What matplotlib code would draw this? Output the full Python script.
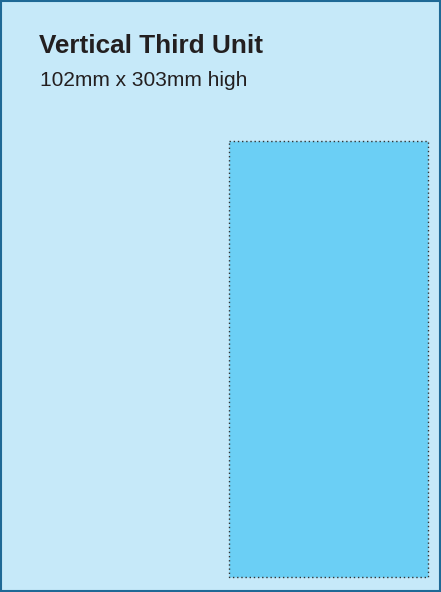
import matplotlib.pyplot as plt
from matplotlib.patches import Rectangle

# text shown on the diagram
title = "Vertical Third Unit"
subtitle = "102mm x 303mm high"

# page and unit boxes, in pixels of the 441x592 image
page = [0, 0, 441, 592]
unit = [228.5, 140.5, 199.5, 436.5]

fig = plt.figure(figsize=(4.41, 5.92), dpi=100)
ax = fig.add_axes([0, 0, 1, 1])
ax.set_xlim(0, 441)
ax.set_ylim(592, 0)
ax.axis('off')

# page background with dark blue border
ax.add_patch(Rectangle((page[0] + 1, page[1] + 1), page[2] - 2, page[3] - 2,
                       facecolor='#c6e9f9', edgecolor='#1f6996', lw=1.5))

# the unit itself, dotted outline
ax.add_patch(Rectangle((unit[0], unit[1]), unit[2], unit[3],
                       facecolor='#6bcff5', edgecolor='#333333', lw=1.0,
                       linestyle=(0, (1, 2))))

ax.text(39, 53, title, fontsize=18.8, fontweight='bold', color='#231f20',
        family='Liberation Sans', va='baseline')
ax.text(39.5, 86.5, subtitle, fontsize=15, color='#231f20',
        family='Liberation Sans', va='baseline')

plt.savefig('out.png', dpi=100)
